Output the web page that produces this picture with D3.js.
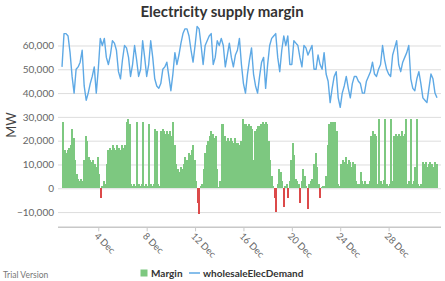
<!DOCTYPE html>
<html>
<head>
<meta charset="utf-8">
<script src="https://cdn.jsdelivr.net/npm/d3@7"></script>
<style>
  html, body { margin: 0; padding: 0; background: #fff; }
  svg { display: block; font-family: Lato, "Open Sans", sans-serif; }
</style>
</head>
<body>
<div id="chart"></div>
<script>
// ---- data ---------------------------------------------------------
const chartTitle = "Electricity supply margin";
const seriesNames = ["Margin", "wholesaleElecDemand"];
const yTitle = "MW";

// wholesale demand, MW, every 4 hours from 1 Dec 00:00 (UTC)
const demandStart = "2017-12-01T00:00Z";
const demandStepHours = 4;
const demand = [
  51000, 65000, 65000, 64000, 57000, 47000,   // 1 Dec
  40000, 50000, 51000, 53000, 58000, 43000,
  37000, 40000, 44000, 47000, 51000, 40000,
  50000, 63000, 60000, 63000, 55000, 52000,   // 4 Dec
  56000, 62000, 61000, 58000, 49000, 46000,
  54000, 60000, 59000, 55000, 47000, 52000,
  60000, 54000, 47000, 50000, 62000, 55000,
  47000, 52000, 62000, 55000, 46000, 43000,   // 8 Dec
  42000, 44000, 50000, 51000, 53000, 47000,
  41000, 48000, 57000, 52000, 56000, 61000,
  65000, 67000, 67000, 64000, 58000, 53000,
  60000, 68000, 67000, 60000, 52000, 60000,   // 12 Dec
  62000, 64000, 65000, 52000, 55000, 62000,
  60000, 63000, 60000, 51000, 56000, 61000,
  55000, 51000, 56000, 58000, 63000, 52000,
  44000, 40000, 48000, 54000, 59000, 48000,   // 16 Dec
  43000, 40000, 47000, 53000, 55000, 42000,
  52000, 60000, 63000, 64000, 65000, 55000,
  49000, 58000, 64000, 60000, 64000, 52000,
  52000, 62000, 61000, 60000, 55000, 51000,   // 20 Dec
  60000, 59000, 56000, 58000, 60000, 50000,
  50000, 56000, 52000, 50000, 57000, 48000,
  45000, 36000, 42000, 47000, 49000, 38000,
  34000, 40000, 43000, 47000, 42000, 38000,   // 24 Dec
  44000, 47000, 47000, 45000, 44000, 40000,
  40000, 45000, 47000, 49000, 53000, 48000,
  47000, 50000, 52000, 60000, 54000, 50000,
  48000, 47000, 56000, 59000, 62000, 52000,   // 28 Dec
  49000, 53000, 55000, 57000, 60000, 46000,
  42000, 41000, 46000, 49000, 44000, 38000,
  37000, 36000, 42000, 48000, 46000, 40000,
  38000                                       // 1 Jan
];

// supply margin, MW, every 3 hours from 1 Dec 00:00 (UTC)
const marginStart = "2017-12-01T00:00Z";
const marginStepHours = 3;
const margin = [
  28000, 16000, 15000, 16000, 17000, 18000, 25000, 21000,   // 1 Dec
  12000,  6000,  4000,  3000,  4000,  3000, 12000, 22000,
  20000, 13000, 12000, 11000, 12000, 10000,  9000, 13000,
   6000, -4000,  1000,  3000,  2000, 10000, 16000, 17000,   // 4 Dec
  16000, 18000, 17000, 16000, 18000, 17000, 16000, 18000,
  17000, 18000, 28000, 29000, 27000,  2000,  1000,  2000,
   1000, 28000,  2000,  1000,  2000, 28000,  1000,  2000,
   1000, 27000,  2000,  1000,  2000, 25000, 24000,  2000,   // 8 Dec
   1000, 24000, 25000, 24000, 23000, 24000, 23000, 24000,
  22000, 28000, 18000, 10000,  8000,  7000,  9000,  8000,
  10000, 13000, 12000, 15000, 14000, 16000, 18000, 12000,
   3000, -6000,-11000,  1000,  2000,  8000, 15000, 18000,   // 12 Dec
  20000, 22000, 24000, 23000, 21000, 22000,  8000,   500,
   3000, 27000, 27000, 22000, 20000, 21000, 20000, 21000,
  20000, 19000, 21000, 19000, 19000, 18000, 20000, 29000,
  27000, 27000, 26000, 27000, 26000, 25000, 12000, 24000,   // 16 Dec
  25000, 26000, 26000, 27000, 28000, 27000, 28000, 27000,
  20000, 12000,  5000,  1000, -4000,-10000,  2000,  8000,
   7000,  3000, -8000,  1000,  2000, -4000,  3000, 12000,
  19000, 14000,  4000,  3000,  2000, -6000,  3000,  8000,   // 20 Dec
   5000,  1000, -8500,  2000,  3000,  4000, 10000, 15000,
   9000,  2000, -4000,   500,  1000,  1000,  5000, 18000,
  27000, 28000, 28000, 28000, 28000, 24000,  2000,  1000,
  10000, 12000, 11000, 13000, 10000, 12000, 11000,  9000,   // 24 Dec
  11000, 10000,  3000,  2000,  2000,  7000,  3000,  2000,
   3000,  2000,  2000,  3000, 22000, 24000, 23000, 22000,
   2000, 29000,  3000,  2000,  3500, 29000,  2000,  1000,
   2000, 29000,  3000, 22000, 23000, 22000, 23000, 22000,   // 28 Dec
  24000, 22000, 23000, 29000,  2000,  3000, 29000,  2000,
   3000,  9000, 29000,  2000,  1000,  2000, 11000, 10000,
  11000,  9000, 10000, 11000, 10000,  9000, 11000, 10000
];

const xTickDates = ["2017-12-04", "2017-12-08", "2017-12-12", "2017-12-16",
                    "2017-12-20", "2017-12-24", "2017-12-28"];
const yTickValues = [-10000, 0, 10000, 20000, 30000, 40000, 50000, 60000];

// ---- chart --------------------------------------------------------
const W = 445, H = 281;
const plotLeft = 58, plotRight = 441;

const demandData = demand.map((v, i) => ({
  t: d3.utcHour.offset(new Date(demandStart), i * demandStepHours), v
}));
const marginData = margin.map((v, i) => ({
  t: d3.utcHour.offset(new Date(marginStart), i * marginStepHours), v
}));

const x = d3.scaleUtc()
  .domain([new Date("2017-12-01T00:00Z"), new Date("2018-01-01T00:00Z")])
  .range([62, 437]);
const y = d3.scaleLinear()
  .domain([-16400, 70000])
  .range([227.3, 21.7]);

const svg = d3.select("#chart").append("svg")
  .attr("width", W).attr("height", H)
  .attr("viewBox", `0 0 ${W} ${H}`);

// title
svg.append("text")
  .attr("x", 222).attr("y", 17)
  .attr("text-anchor", "middle")
  .attr("font-size", 15).attr("font-weight", "bold")
  .attr("fill", "#333")
  .text(chartTitle);

// y axis + grid
const yAxisG = svg.append("g")
  .attr("transform", `translate(${plotLeft},0)`)
  .call(d3.axisLeft(y)
    .tickValues(yTickValues)
    .tickSize(-(plotRight - plotLeft))
    .tickPadding(4)
    .tickFormat(d3.format(",")));
yAxisG.select(".domain").remove();
yAxisG.selectAll("line").attr("stroke", "#ddd");
yAxisG.selectAll("text")
  .attr("fill", "#666").attr("font-size", 10)
  .attr("font-family", "Lato, 'Open Sans', sans-serif");

svg.append("text")
  .attr("transform", `translate(16,125) rotate(-90)`)
  .attr("text-anchor", "middle")
  .attr("font-size", 13).attr("fill", "#444")
  .text(yTitle);

// margin bars (crisp so neighbouring thin bars don't leave seams)
const step = x(d3.utcHour.offset(new Date(marginStart), marginStepHours)) - x(new Date(marginStart));
svg.append("g")
  .attr("shape-rendering", "crispEdges")
  .selectAll("rect")
  .data(marginData)
  .join("rect")
    .attr("x", d => x(d.t))
    .attr("width", step + 0.5)
    .attr("y", d => y(Math.max(0, d.v)))
    .attr("height", d => Math.abs(y(d.v) - y(0)))
    .attr("fill", d => d.v < 0 ? "#dc4a4a" : "#7dc880");

// demand line
svg.append("path")
  .datum(demandData)
  .attr("fill", "none")
  .attr("stroke", "#5ea9e5")
  .attr("stroke-width", 1.4)
  .attr("stroke-linejoin", "round")
  .attr("d", d3.line().x(d => x(d.t)).y(d => y(d.v)));

// x axis
const xAxisG = svg.append("g")
  .attr("transform", `translate(0,${y(-16400)})`)
  .call(d3.axisBottom(x)
    .tickValues(xTickDates.map(d => new Date(d + "T00:00Z")))
    .tickSize(4)
    .tickFormat(d3.utcFormat("%-d %b")));
xAxisG.select(".domain").remove();
xAxisG.append("line")
  .attr("x1", plotLeft).attr("x2", plotRight)
  .attr("stroke", "#c8c8c8").attr("stroke-width", 1.5);
xAxisG.selectAll(".tick line").attr("stroke", "#c8c8c8");
xAxisG.selectAll(".tick text")
  .attr("fill", "#666").attr("font-size", 9.5)
  .attr("font-family", "Lato, 'Open Sans', sans-serif")
  .attr("text-anchor", "start")
  .attr("x", 0).attr("y", 0).attr("dy", 0)
  .attr("transform", "translate(-5,9.5) rotate(45)");

// legend
const leg = svg.append("g").attr("font-size", 10).attr("font-weight", "bold").attr("fill", "#333");
leg.append("rect").attr("x", 140.5).attr("y", 269.5).attr("width", 7).attr("height", 7).attr("fill", "#7dc880");
leg.append("text").attr("x", 151).attr("y", 277).text(seriesNames[0]);
leg.append("line").attr("x1", 189).attr("x2", 200).attr("y1", 273).attr("y2", 273)
  .attr("stroke", "#5ea9e5").attr("stroke-width", 1.5);
leg.append("text").attr("x", 203).attr("y", 277).text(seriesNames[1]);

// watermark
svg.append("text")
  .attr("x", 3).attr("y", 278)
  .attr("font-size", 8.5).attr("fill", "#777")
  .text("Trial Version");
</script>
</body>
</html>
